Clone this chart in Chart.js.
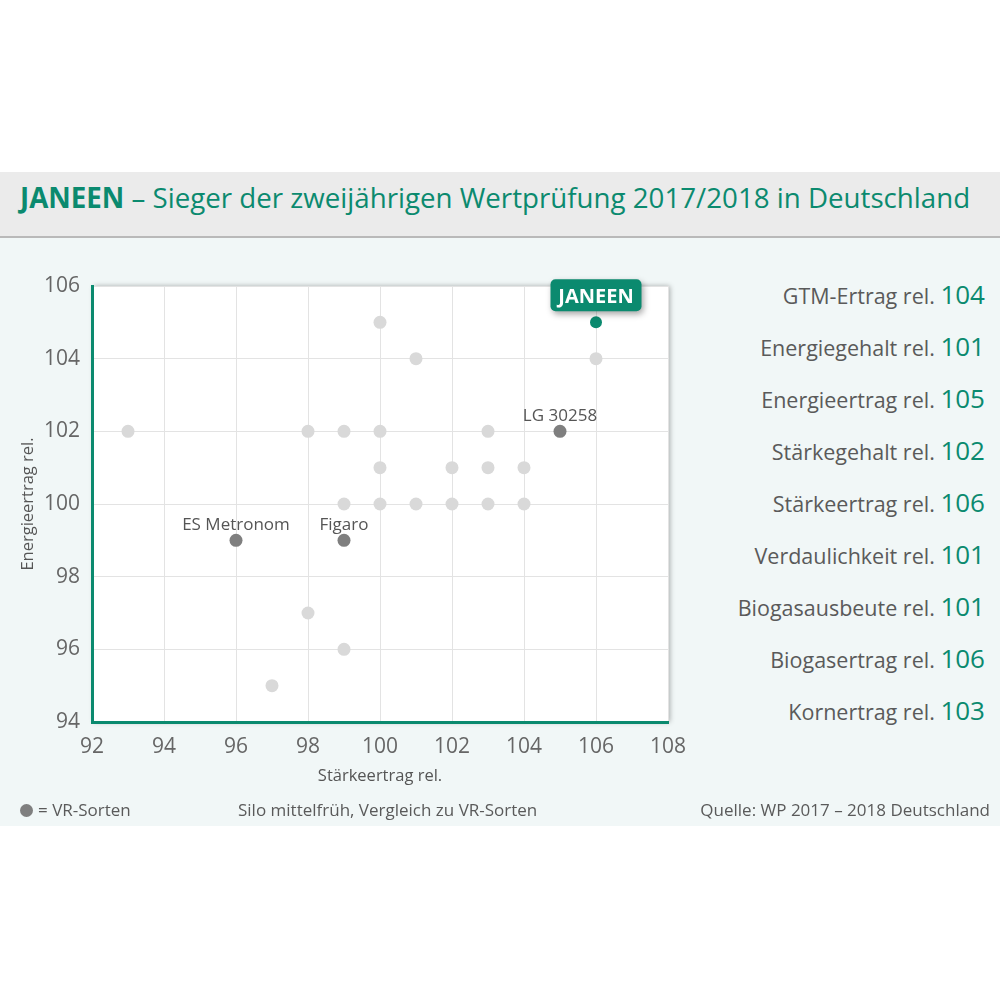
<!DOCTYPE html>
<html lang="de">
<head>
<meta charset="utf-8">
<title>JANEEN – Sieger der zweijährigen Wertprüfung 2017/2018</title>
<script src="https://cdn.jsdelivr.net/npm/chart.js@4.4.1/dist/chart.umd.min.js"></script>
<style>
  html, body { margin: 0; padding: 0; background: #fff; }
  body { width: 1000px; height: 1000px; position: relative; overflow: hidden; font-family: "Open Sans", sans-serif; color: #5a5a5a; }
  #panel { position: absolute; left: 0; top: 172px; width: 1000px; height: 654px; background: #f1f7f7; }
  #head { position: absolute; left: 0; top: 172px; width: 1000px; height: 64px; background: #ebebeb; border-bottom: 2px solid #b9b9b9; }
  #head h1 { margin: 0; position: absolute; left: 20px; top: 0; font-size: 27.7px; line-height: 50px; font-weight: normal; color: #0b8a6f; white-space: nowrap; }
  #plot { position: absolute; left: 0; top: 238px; width: 700px; height: 588px; }
  #plot canvas { display: block; }
  .row { position: absolute; right: 15px; height: 52px; line-height: 52px; font-size: 21.5px; white-space: nowrap; color: #5a5a5a; }
  .row span { font-size: 26px; color: #0b8a6f; }
  .foot { position: absolute; top: 798px; font-size: 17px; line-height: 24px; white-space: nowrap; color: #5a5a5a; }
  .dot { display: inline-block; width: 13px; height: 13px; border-radius: 50%; background: #7f7f7f; vertical-align: -1px; margin-right: 5px; }
</style>
</head>
<body>
<div id="panel"></div>
<div id="head"><h1><b>JANEEN</b> – Sieger der zweijährigen Wertprüfung 2017/2018 in Deutschland</h1></div>
<div id="plot"><canvas id="scatter" width="700" height="588"></canvas></div>
<div id="traits"></div>
<div class="foot" style="left:20px"><span class="dot"></span>= VR-Sorten</div>
<div class="foot" style="left:238px">Silo mittelfrüh, Vergleich zu VR-Sorten</div>
<div class="foot" style="right:10px">Quelle: WP 2017 – 2018 Deutschland</div>
<script>
// other varieties (light grey dots)
const grayX = [93, 98, 99, 100, 100, 101, 106, 103, 100, 102, 103, 104, 99, 100, 101, 102, 103, 104, 98, 99, 97];
const grayY = [102, 102, 102, 102, 105, 104, 104, 102, 101, 101, 101, 101, 100, 100, 100, 100, 100, 100, 97, 96, 95];

// comparison varieties (VR-Sorten)
const vrNames = ['ES Metronom', 'Figaro', 'LG 30258'];
const vrX = [96, 99, 105];
const vrY = [99, 99, 102];

// winner
const winnerName = 'JANEEN';
const winnerX = [106];
const winnerY = [105];

// axis ticks
const xTicks = [92, 94, 96, 98, 100, 102, 104, 106, 108];
const yTicks = [94, 96, 98, 100, 102, 104, 106];

// right side list
const traitNames = ['GTM-Ertrag rel.', 'Energiegehalt rel.', 'Energieertrag rel.', 'Stärkegehalt rel.', 'Stärkeertrag rel.',
  'Verdaulichkeit rel.', 'Biogasausbeute rel.', 'Biogasertrag rel.', 'Kornertrag rel.'];
const traitValues = [104, 101, 105, 102, 106, 101, 101, 106, 103];

const GREEN = '#0b8a6f';

const traits = document.getElementById('traits');
traitNames.forEach((name, i) => {
    const row = document.createElement('div');
    row.className = 'row';
    row.style.top = (268 + i * 52) + 'px';
    row.innerHTML = name + ' <span>' + traitValues[i] + '</span>';
    traits.appendChild(row);
});

const toPoints = (xs, ys) => xs.map((x, i) => ({ x: x, y: ys[i] }));

// white plot box with a soft shadow
const plotShadow = {
    id: 'plotShadow',
    beforeDraw(chart) {
        const { ctx, chartArea: a } = chart;
        ctx.save();
        ctx.shadowColor = 'rgba(0,0,0,0.3)';
        ctx.shadowBlur = 5;
        ctx.shadowOffsetX = 2;
        ctx.fillStyle = '#fff';
        ctx.fillRect(a.left, a.top, a.right - a.left, a.bottom - a.top);
        ctx.restore();
    }
};

// names next to the highlighted dots
const pointLabels = {
    id: 'pointLabels',
    afterDatasetsDraw(chart) {
        const ctx = chart.ctx;
        ctx.save();
        ctx.font = '17px "Open Sans"';
        ctx.fillStyle = '#555';
        ctx.textAlign = 'center';
        chart.getDatasetMeta(1).data.forEach((pt, i) => {
            ctx.fillText(vrNames[i], pt.x, pt.y - 10);
        });

        const w = chart.getDatasetMeta(2).data[0];
        const bw = 91, bh = 32;
        const bx = w.x - bw / 2, by = w.y - 11 - bh;
        ctx.shadowColor = 'rgba(0,0,0,0.35)';
        ctx.shadowBlur = 6;
        ctx.shadowOffsetX = 2;
        ctx.shadowOffsetY = 3;
        ctx.fillStyle = GREEN;
        ctx.beginPath();
        ctx.roundRect(bx, by, bw, bh, 5);
        ctx.fill();
        ctx.shadowColor = 'transparent';
        ctx.fillStyle = '#fff';
        ctx.font = 'bold 20px "Open Sans"';
        ctx.fillText(winnerName, w.x, w.y - 19);
        ctx.restore();
    }
};

new Chart(document.getElementById('scatter'), {
    type: 'scatter',
    data: {
        datasets: [{
            label: 'Sorten',
            data: toPoints(grayX, grayY),
            backgroundColor: '#d9d9d9',
            borderWidth: 0,
            pointRadius: 6.5
        }, {
            label: 'VR-Sorten',
            data: toPoints(vrX, vrY),
            backgroundColor: '#7f7f7f',
            borderWidth: 0,
            pointRadius: 6.5
        }, {
            label: winnerName,
            data: toPoints(winnerX, winnerY),
            backgroundColor: GREEN,
            borderWidth: 0,
            pointRadius: 6
        }]
    },
    options: {
        responsive: false,
        animation: false,
        devicePixelRatio: 1,
        layout: { padding: { left: 0, top: 48, right: 32, bottom: 0 } },
        plugins: {
            legend: { display: false },
            tooltip: { enabled: false }
        },
        scales: {
            x: {
                type: 'linear',
                min: xTicks[0],
                max: xTicks[xTicks.length - 1],
                afterBuildTicks: s => { s.ticks = xTicks.map(v => ({ value: v })); },
                afterFit: s => { s.height = 104; },
                grid: { color: '#e3e3e3', drawTicks: false },
                border: { color: GREEN, width: 3 },
                ticks: { padding: 12, color: '#666', font: { family: 'Open Sans', size: 21 } },
                title: { display: true, text: 'Stärkeertrag rel.', color: '#555', padding: { bottom: 40 }, font: { family: 'Open Sans', size: 16.5 } }
            },
            y: {
                type: 'linear',
                min: yTicks[0],
                max: yTicks[yTicks.length - 1],
                afterBuildTicks: s => { s.ticks = yTicks.map(v => ({ value: v })); },
                afterFit: s => { s.width = 92; },
                grid: { color: '#e3e3e3', drawTicks: false },
                border: { color: GREEN, width: 3 },
                ticks: { padding: 12, color: '#666', font: { family: 'Open Sans', size: 21 } },
                title: { display: true, text: 'Energieertrag rel.', color: '#555', padding: { top: 18 }, font: { family: 'Open Sans', size: 16.5 } }
            }
        }
    },
    plugins: [plotShadow, pointLabels]
});
</script>
</body>
</html>
